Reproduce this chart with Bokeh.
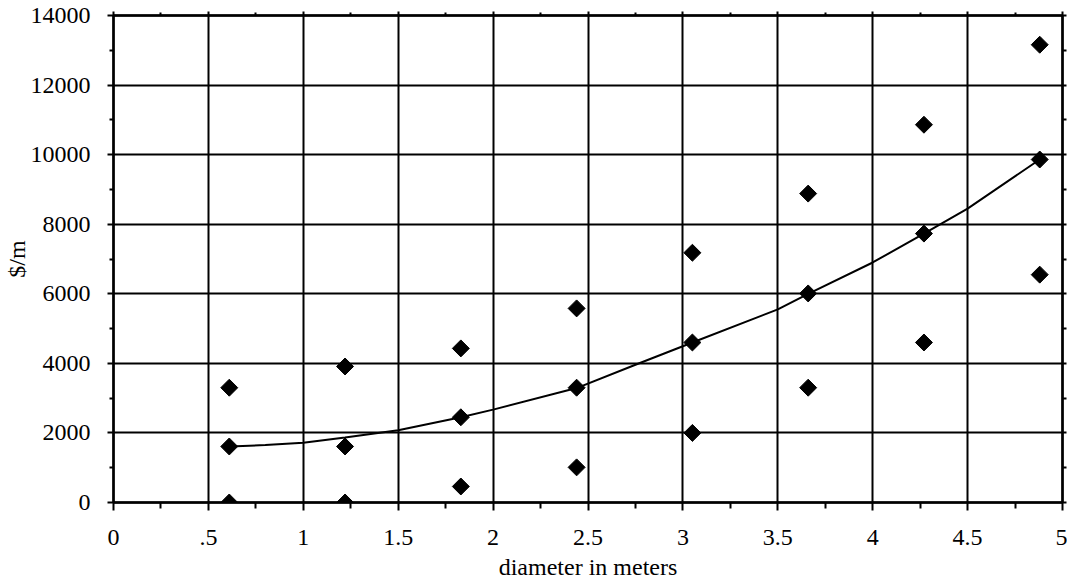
import numpy as np
from bokeh.plotting import figure
from bokeh.models import LinearAxis, FixedTicker, Range1d
from bokeh.embed import file_html
from bokeh.resources import INLINE

# ---- data ----
diameter_m = [0.61, 1.22, 1.83, 2.44, 3.05, 3.66, 4.27, 4.88]
cost_high = [3300, 3910, 4430, 5580, 7180, 8880, 10860, 13160]
cost_mid = [1610, 1610, 2450, 3300, 4600, 6010, 7730, 9860]
cost_low = [0, 0, 460, 1010, 2000, 3300, 4600, 6550]

fit_x = [0.61, 0.8, 1.0, 1.22, 1.5, 1.83, 2.0, 2.44, 2.75, 3.05, 3.5, 3.66, 4.0, 4.27, 4.5, 4.88]
fit_y = [1610, 1650, 1720, 1870, 2080, 2450, 2670, 3290, 3960, 4600, 5550, 6000, 6900, 7730, 8450, 9860]

x_ticks = [0, 0.5, 1, 1.5, 2, 2.5, 3, 3.5, 4, 4.5, 5]
x_tick_labels = ["0", ".5", "1", "1.5", "2", "2.5", "3", "3.5", "4", "4.5", "5"]
x_minor = [0.25, 0.75, 1.25, 1.75, 2.25, 2.75, 3.25, 3.75, 4.25, 4.75]
y_ticks = [0, 2000, 4000, 6000, 8000, 10000, 12000, 14000]
y_tick_labels = ["0", "2000", "4000", "6000", "8000", "10000", "12000", "14000"]
y_minor = [1000, 3000, 5000, 7000, 9000, 11000, 13000]

FONT = "Liberation Serif"
FS = "24px"

p = figure(width=1067, height=582,
           x_range=Range1d(0, 5), y_range=Range1d(0, 14000),
           output_backend="svg", toolbar_location=None,
           min_border_left=113, min_border_right=5,
           min_border_top=15, min_border_bottom=80,
           x_axis_label="diameter in meters", y_axis_label="$/m")
p.outline_line_color = "black"
p.outline_line_width = 2
p.background_fill_color = "white"
p.border_fill_color = "white"

xt = FixedTicker(ticks=x_ticks, minor_ticks=x_minor)
yt = FixedTicker(ticks=y_ticks, minor_ticks=y_minor)

for ax in p.xaxis:
    ax.ticker = xt
    ax.major_label_overrides = {t: l for t, l in zip(x_ticks, x_tick_labels)}
    ax.major_tick_out = 8
    ax.major_tick_in = 0
    ax.minor_tick_out = 6
    ax.minor_tick_in = 0
    ax.major_label_standoff = 19
    ax.axis_label_standoff = 6
for ax in p.yaxis:
    ax.ticker = yt
    ax.major_label_overrides = {t: l for t, l in zip(y_ticks, y_tick_labels)}
    ax.major_tick_out = 6
    ax.major_tick_in = 0
    ax.minor_tick_out = 4
    ax.minor_tick_in = 0
    ax.major_label_standoff = 17
    ax.axis_label_standoff = -2

for ax in list(p.xaxis) + list(p.yaxis):
    ax.axis_line_color = "black"
    ax.axis_line_width = 2.5
    ax.major_tick_line_color = "black"
    ax.major_tick_line_width = 2
    ax.minor_tick_line_color = "black"
    ax.minor_tick_line_width = 2
    ax.major_label_text_font = FONT
    ax.major_label_text_font_size = FS
    ax.major_label_text_color = "black"
    ax.axis_label_text_font = FONT
    ax.axis_label_text_font_size = FS
    ax.axis_label_text_font_style = "normal"
    ax.axis_label_text_color = "black"

# top and right frame axes (ticks only)
top = LinearAxis(ticker=FixedTicker(ticks=x_ticks, minor_ticks=x_minor),
                 major_label_text_font_size="0px", major_label_standoff=0,
                 major_tick_out=4, major_tick_in=0, minor_tick_out=3, minor_tick_in=0,
                 axis_line_width=2.5, major_tick_line_width=2, minor_tick_line_width=2)
top.major_label_overrides = {t: "" for t in x_ticks}
p.add_layout(top, "above")
right = LinearAxis(ticker=FixedTicker(ticks=y_ticks, minor_ticks=y_minor),
                   major_label_text_font_size="0px", major_label_standoff=0,
                   major_tick_out=4, major_tick_in=0, minor_tick_out=4, minor_tick_in=0,
                   axis_line_width=2.5, major_tick_line_width=2, minor_tick_line_width=2)
right.major_label_overrides = {t: "" for t in y_ticks}
p.add_layout(right, "right")

p.xgrid.ticker = xt
p.ygrid.ticker = yt
for g in (p.xgrid, p.ygrid):
    g.grid_line_color = "black"
    g.grid_line_width = 2
    g.grid_line_alpha = 1.0

p.line(fit_x, fit_y, line_color="black", line_width=2)

for ys in (cost_high, cost_mid, cost_low):
    p.scatter(diameter_m, ys, marker="square", angle=np.pi / 4, size=12,
              fill_color="black", line_color="black")

open("out.html", "w").write(file_html(p, INLINE))
